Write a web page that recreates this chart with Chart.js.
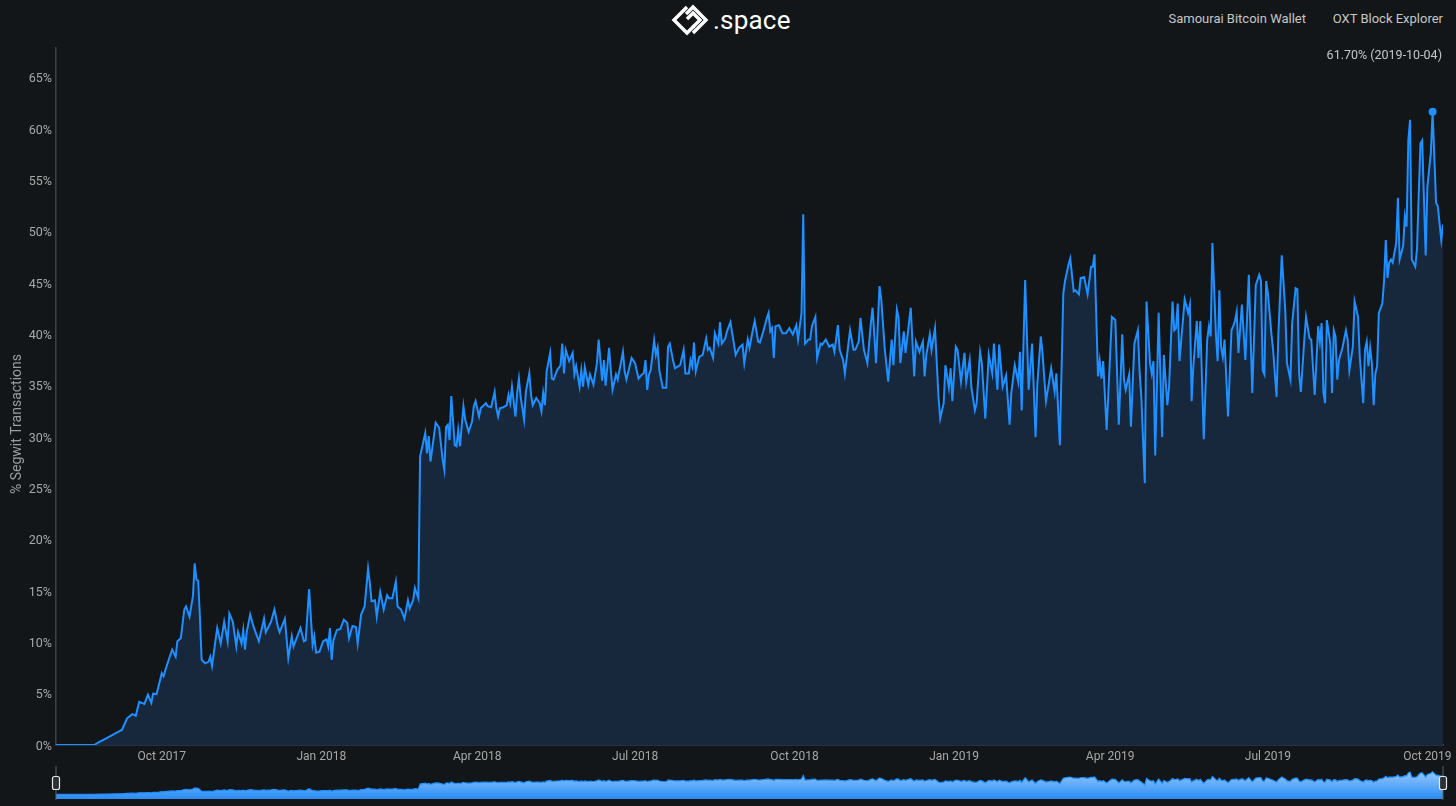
<!DOCTYPE html>
<html>
<head>
<meta charset="utf-8">
<script src="https://cdn.jsdelivr.net/npm/chart.js@4.4.1/dist/chart.umd.min.js"></script>
<style>
  html, body { margin: 0; padding: 0; width: 1456px; height: 806px; overflow: hidden; background: #121619; font-family: Roboto, "Noto Sans", sans-serif; }
  #logo { position: absolute; left: 667px; top: 2px; height: 36px; display: flex; align-items: center; color: #fff; font-size: 26px; letter-spacing: 0.2px; }
  .link { position: absolute; top: 11px; font-size: 13px; color: #c6c6c6; white-space: nowrap; }
  #main { position: absolute; left: 0; top: 0; }
  #nav { position: absolute; left: 0; top: 762px; }
</style>
</head>
<body>
<div id="logo">
  <svg width="46" height="34" viewBox="0 0 46 34">
    <path d="M20 4 L7 17 L20 30 L27 23" fill="none" stroke="#fff" stroke-width="3.4" stroke-linejoin="miter"/>
    <path d="M20 16 L26 10 L33 17 L26 24" fill="none" stroke="#fff" stroke-width="3.4"/>
    <path d="M26 30 L39 17 L26 4 L19 11" fill="none" stroke="#fff" stroke-width="3.4"/>
  </svg>
  <span>.space</span>
</div>
<div class="link" style="right:150px">Samourai Bitcoin Wallet</div>
<div class="link" style="right:13px">OXT Block Explorer</div>
<canvas id="main" width="1456" height="770"></canvas>
<canvas id="nav" width="1456" height="44"></canvas>
<script>
// daily share of segwit transactions (%), day = days since START
const START = Date.UTC(2017, 7, 1);

// Aug 2017 - Feb 2018
const p1Days = [0,22,25,29,35,38,41,44,46,48, 51,53,55,56,58,61,62,64,67,69,
  70,72,74,75,77,79,80,81,82,83, 84,86,88,89,90,92,93,95,97,99,
  100,102,104,105,107,108,109,110,112,114, 117,120,121,124,126,128,129,132,133,134,
  136,137,141,143,144,146,148,149,150,152, 154,156,157,158,159,160,162,164,166,168,
  169,171,173,174,176,178,180,181,182,184, 185,187,189,191,192,194,196,197,199,201,
  203,204,206,207,209];
const p1Pct = [0,0,0.3,0.65,1.2,1.46,2.6,3.0,2.85,4.2, 4.0,4.9,4.1,5.0,4.95,7.0,6.7,7.8,9.3,8.6,
  10.1,10.4,13.2,13.5,12.5,14.5,17.7,16.1,16.0,12.5, 8.3,7.96,8.1,8.6,7.7,10.2,11.4,9.9,12.0,10.1,
  12.8,12.0,9.6,11.0,9.9,11.2,9.3,11.0,12.7,11.5, 10.1,12.3,11.0,12.0,13.2,11.5,11.0,12.3,10.4,8.45,
  10.6,9.6,11.4,10.1,10.2,15.2,9.75,10.6,9.0,9.1, 10.1,10.3,9.6,11.4,8.3,10.2,11.2,11.3,12.2,11.9,
  10.4,11.6,11.5,9.9,12.7,13.5,17.2,15.8,14.0,14.1, 12.5,14.9,13.2,14.6,14.3,14.3,15.9,13.5,13.2,12.3,
  14.1,13.3,14.1,15.3,14.3];

// Feb 2018 - Sep 2018
const p2Days = [210,213,214,215,216,219,221,223,224,225, 226,227,228,230,231,232,233,235,236,238,
  240,241,242,244,245,248,249,251,253,254, 255,256,258,260,261,262,263,265,266,267,
  268,270,271,273,274,275,277,279,280,281, 282,283,285,286,287,289,291,292,293,294,
  296,298,299,300,302,303,304,305,307,308, 310,312,313,315,316,317,319,320,321,323,
  324,327,328,329,332,334,336,338,339,340, 341,342,343,345,346,347,348,350,352,353,
  354,356,357,360,362,363,365,366,367,368, 369,371,373,375,376,377,379,380,382,383,
  384,386,387,389,391,392,394,396,397,399, 400,402,403,405,406,408,410,411,412,413,
  414,415,417,419,421];
const p2Pct = [28.1,30.4,28.4,30.1,27.6,31.4,30.9,27.8,26.8,31.0, 31.2,29.7,34.0,29.2,29.1,30.7,29.1,33.0,31.7,30.5,
  31.5,33.0,33.5,32.0,32.8,33.3,33.0,32.9,34.4,32.8, 32.0,32.8,32.9,33.1,34.1,33.3,34.9,32.0,34.3,35.7,
  33.9,31.7,34.4,36.2,34.1,33.1,33.8,33.3,32.5,34.3, 33.1,36.4,38.2,35.7,35.6,36.5,37.0,39.1,36.2,38.5,
  37.4,38.2,36.1,36.9,34.9,36.5,34.9,36.8,35.1,36.1, 35.1,37.2,39.5,35.5,37.5,35.0,38.7,36.5,34.6,36.1,
  35.6,38.3,36.4,35.6,37.7,37.2,35.7,36.1,36.2,37.5, 34.6,36.1,36.5,39.4,38.0,38.7,36.5,34.8,34.8,38.8,
  39.1,37.4,36.7,37.0,38.5,36.2,36.2,37.5,36.9,39.2, 36.4,37.8,38.0,39.6,38.5,38.7,37.7,40.1,39.1,41.2,
  39.1,39.6,40.3,41.2,39.1,38.0,38.7,39.0,37.2,39.5, 38.7,40.5,41.3,39.3,39.2,40.3,41.6,42.1,40.3,40.6,
  37.7,40.8,40.9,40.1,40.1];

// Sep 2018 - Apr 2019
const p3Days = [423,425,427,428,430,431,432,434,435,436, 438,439,441,442,444,446,448,449,451,452,
  454,455,458,460,461,463,464,466,468,470, 471,473,475,476,478,480,482,483,485,486,
  487,489,490,493,495,496,498,500,501,502, 504,505,507,509,510,512,513,515,516,517,
  519,520,522,524,525,527,528,530,531,533, 534,536,538,540,541,543,544,546,548,550,
  551,553,555,556,557,559,561,563,565,566, 568,569,571,573,574,576,577,579,581,582,
  584,585,587,588,590,591,593,595,597,598, 599,601,602,603,604,606,609,611,613];
const p3Pct = [40.6,40.0,40.9,39.5,42.1,51.7,39.1,39.5,39.5,40.8, 41.7,37.7,39.1,39.0,39.5,38.8,39.0,38.3,40.9,38.5,
  37.5,36.2,40.4,38.5,38.5,39.3,41.6,38.5,37.2,41.1, 42.6,37.2,44.7,43.4,38.6,35.4,39.5,37.0,42.4,41.6,
  37.2,40.3,38.2,42.6,35.9,39.3,38.3,39.3,35.9,38.0, 40.0,38.5,40.6,33.9,31.8,33.3,37.0,34.8,36.7,33.5,
  38.8,38.5,35.4,38.2,35.4,37.5,34.8,32.6,33.3,38.3, 37.2,31.8,38.0,36.2,39.1,34.6,39.0,34.9,36.0,31.2,
  34.3,37.0,35.4,38.3,32.6,45.3,34.6,39.1,30.0,35.1, 39.8,38.2,33.5,35.6,36.7,34.4,36.2,29.2,44.0,45.2,
  46.8,47.4,44.2,44.3,43.9,45.5,45.6,43.9,46.6,46.6, 47.8,35.9,37.4,35.7,37.4,30.7,41.7,41.4,31.2];

// Apr 2019 - Oct 2019
const p4Days = [615,616,617,619,620,622,624,625,626,628, 629,631,632,633,634,636,638,639,641,642,
  644,645,646,647,648,650,651,653,654,655, 656,658,659,660,662,664,665,666,667,669,
  670,671,672,673,674,676,678,679,680,681, 682,684,686,688,690,692,694,695,696,697,
  698,699,701,702,704,705,707,709,710,712, 713,715,716,717,718,720,721,723,724,726,
  728,729,730,731,732,733,735,736,737,738, 739,740,742,744,745,746,748,749,751,752,
  754,755,756,757,758,759,760,761,762,763, 765,766,767,768,769,770,771,773,774,775,
  777,778,779,780,781,782,784,785,786,787, 788,790,791,793,794,796,797,799,800];
const p4Pct = [40.0,35.6,34.6,36.1,31.0,39.1,40.4,36.4,33.9,25.5, 43.2,37.2,36.2,37.4,28.2,42.1,30.0,38.0,33.1,34.9,
  43.2,40.4,40.6,43.0,37.4,41.4,43.4,42.1,42.9,33.5, 36.9,41.3,37.7,41.3,29.8,39.5,40.8,39.8,48.9,40.1,
  37.4,44.3,38.8,37.8,39.5,32.0,40.4,40.8,41.3,42.2, 38.2,42.9,37.5,45.8,34.3,44.8,45.8,45.2,36.5,36.1,
  45.2,44.0,40.1,38.5,33.9,39.8,47.7,42.4,37.2,35.6, 41.1,44.5,44.4,36.2,34.4,39.5,41.7,39.6,39.5,34.1,
  40.8,39.3,41.1,34.4,33.3,41.4,39.1,34.3,40.4,39.8, 35.6,37.5,38.7,40.4,39.5,36.5,38.8,43.2,41.7,37.8,
  33.3,38.5,39.3,36.9,38.7,37.2,33.1,36.2,36.9,42.1, 43.0,45.2,49.2,45.5,47.0,47.3,47.0,48.9,53.3,47.3,
  48.6,51.5,50.5,58.9,60.9,47.3,46.6,48.3,53.6,58.6, 58.9,47.7,54.4,57.7,61.7,52.8,52.5,49.2,50.7];

const yTicks = [0, 5, 10, 15, 20, 25, 30, 35, 40, 45, 50, 55, 60, 65];
const xTickDates = ['2017-10-01', '2018-01-01', '2018-04-01', '2018-07-01', '2018-10-01',
  '2019-01-01', '2019-04-01', '2019-07-01', '2019-10-01'];
const xTickLabels = ['Oct 2017', 'Jan 2018', 'Apr 2018', 'Jul 2018', 'Oct 2018',
  'Jan 2019', 'Apr 2019', 'Jul 2019', 'Oct 2019'];
const yTitle = '% Segwit Transactions';

const DAY = 86400000;
const dayOf = (iso) => Math.round((Date.parse(iso + 'T00:00:00Z') - START) / DAY);
const toDate = (d) => new Date(START + d * DAY).toISOString().slice(0, 10);

const points = [];
[[p1Days, p1Pct], [p2Days, p2Pct], [p3Days, p3Pct], [p4Days, p4Pct]].forEach(([days, pct]) => {
  days.forEach((d, i) => { if (pct[i] !== undefined) points.push({ x: d, y: pct[i] }); });
});
const peak = points.reduce((m, p) => (p.y > m.y ? p : m), points[0]);
const lastDay = points[points.length - 1].x;

const BLUE = '#1e90ff';

// peak readout in the top right and the y title (sits a bit lower than the axis centre)
const annotations = {
  id: 'annotations',
  afterDraw(chart) {
    const { ctx, chartArea } = chart;
    ctx.save();
    ctx.font = '12.5px Roboto';
    ctx.fillStyle = '#c6c6c6';
    ctx.textAlign = 'right';
    ctx.textBaseline = 'middle';
    ctx.fillText(`${peak.y.toFixed(2)}% (${toDate(peak.x)})`, chartArea.right - 1, 56);

    ctx.font = '14px Roboto';
    ctx.fillStyle = '#9c9c9c';
    ctx.textAlign = 'center';
    ctx.translate(17, 424);
    ctx.rotate(-Math.PI / 2);
    ctx.fillText(yTitle, 0, 0);
    ctx.restore();
  }
};

new Chart(document.getElementById('main'), {
  type: 'line',
  data: {
    datasets: [{
      data: points,
      borderColor: BLUE,
      borderWidth: 2,
      backgroundColor: '#17273c',
      fill: 'origin',
      tension: 0,
      pointRadius: (c) => (c.raw && c.raw.x === peak.x ? 4 : 0),
      pointBackgroundColor: BLUE,
      pointBorderWidth: 0,
    }],
  },
  options: {
    responsive: false,
    animation: false,
    layout: { padding: { top: 48, right: 13, left: 0, bottom: 0 } },
    scales: {
      x: {
        type: 'linear',
        min: 0,
        max: lastDay,
        grid: { color: 'transparent', drawTicks: false },
        border: { color: '#35506d', width: 1.5 },
        afterBuildTicks: (s) => { s.ticks = xTickDates.map((d) => ({ value: dayOf(d) })); },
        afterFit: (s) => { s.height = 25; s.paddingLeft = 0; s.paddingRight = 0; },
        ticks: {
          autoSkip: false,
          maxRotation: 0,
          padding: 5,
          color: '#a8a8a8',
          font: { family: 'Roboto', size: 12 },
          callback: (v, i) => xTickLabels[i],
        },
      },
      y: {
        min: 0,
        max: 67.9,
        grid: { color: 'transparent', drawTicks: false },
        border: { color: '#3a4148', width: 1.5 },
        afterBuildTicks: (s) => { s.ticks = yTicks.map((v) => ({ value: v })); },
        afterFit: (s) => { s.width = 56; },
        ticks: {
          padding: 4,
          labelOffset: 1.5,
          color: '#a8a8a8',
          font: { family: 'Roboto', size: 12.5 },
          callback: (v) => v + '%',
        },
      },
    },
    plugins: { legend: { display: false }, tooltip: { enabled: false } },
  },
  plugins: [annotations],
});

const handles = {
  id: 'handles',
  afterDraw(chart) {
    const { ctx, chartArea: a } = chart;
    const cy = (a.top + a.bottom) / 2;
    ctx.save();
    [a.left, a.right].forEach((x) => {
      ctx.strokeStyle = '#5a6066';
      ctx.lineWidth = 1;
      ctx.beginPath();
      ctx.moveTo(x, a.top - 1);
      ctx.lineTo(x, a.bottom + 1);
      ctx.stroke();
      ctx.fillStyle = '#2c3035';
      ctx.strokeStyle = '#e8e8e8';
      ctx.lineWidth = 1.2;
      ctx.beginPath();
      ctx.roundRect(x - 3.5, cy - 6.5, 7, 13, 2);
      ctx.fill();
      ctx.stroke();
    });
    ctx.restore();
  }
};

new Chart(document.getElementById('nav'), {
  type: 'line',
  data: {
    datasets: [{
      data: points,
      borderColor: BLUE,
      borderWidth: 1.2,
      backgroundColor: (c) => {
        const a = c.chart.chartArea;
        if (!a) return '#3d9bff';
        const g = c.chart.ctx.createLinearGradient(0, a.top, 0, a.bottom);
        g.addColorStop(0, '#a6d1ff');
        g.addColorStop(1, '#2a8cf4');
        return g;
      },
      fill: 'start',
      tension: 0,
      pointRadius: 0,
    }],
  },
  options: {
    responsive: false,
    animation: false,
    layout: { padding: { top: 5, right: 13, left: 56, bottom: 7 } },
    scales: {
      x: { type: 'linear', min: 0, max: lastDay, display: false },
      y: { min: -13, max: 75, display: false },
    },
    plugins: { legend: { display: false }, tooltip: { enabled: false } },
  },
  plugins: [handles],
});
</script>
</body>
</html>
